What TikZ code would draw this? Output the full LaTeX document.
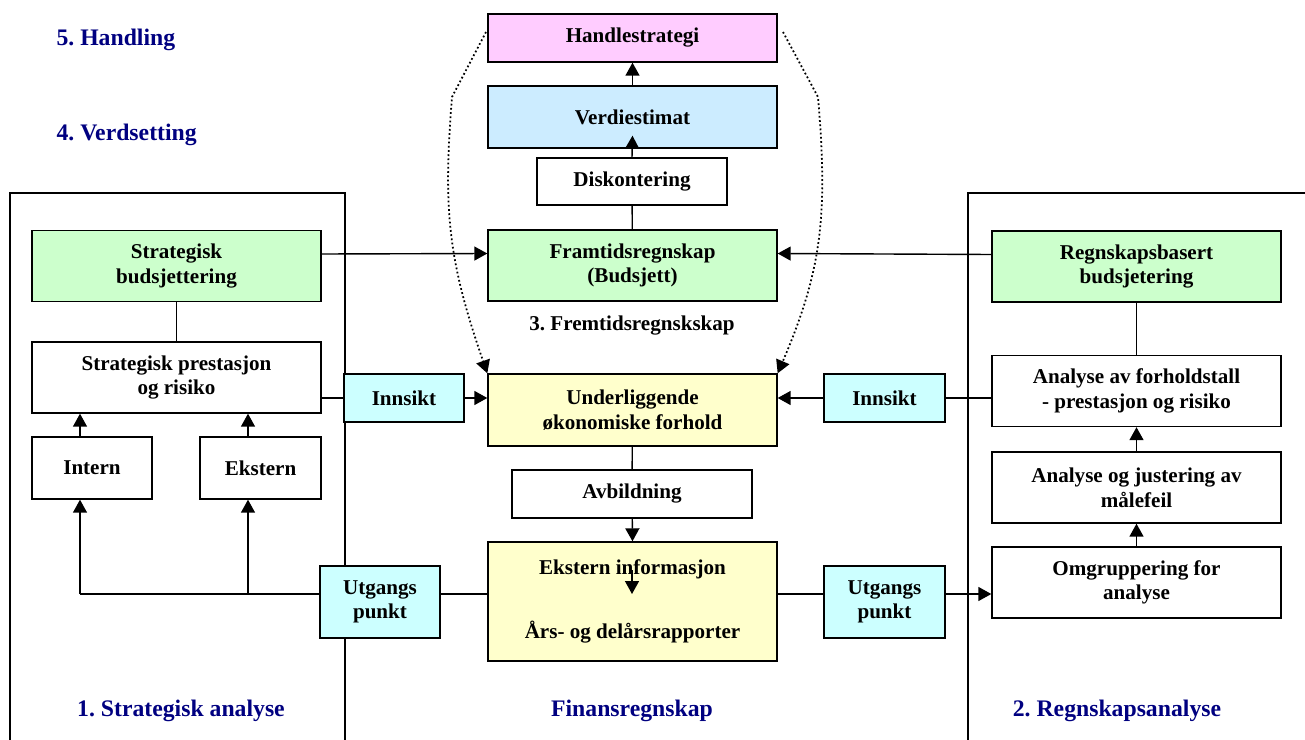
\documentclass[tikz,border=0pt]{standalone}
\usepackage{fontspec}
\setmainfont{Liberation Serif}
\usetikzlibrary{arrows.meta}
\definecolor{rosa}{RGB}{255,204,255}
\definecolor{lysblaa}{RGB}{204,236,255}
\definecolor{lysgronn}{RGB}{204,255,204}
\definecolor{lysgul}{RGB}{255,255,204}
\definecolor{turkis}{RGB}{204,255,255}
\definecolor{marine}{RGB}{0,0,128}
\frenchspacing
\begin{document}
\begin{tikzpicture}[x=0.02cm,y=-0.02cm,line width=0.8pt,
  every node/.style={font=\fontsize{12}{14}\selectfont\bfseries},
  boks/.style={draw,align=center,inner sep=0pt},
  bred/.style={boks,minimum width=5.78cm,minimum height=1.42cm},
  arr/.style={-{Triangle[length=2.6mm,width=2.8mm]}},
  prikk/.style={arr,line width=1pt,dash pattern=on 1pt off 1.4pt},
  fase/.style={text=marine,font=\fontsize{13.5}{16}\selectfont\bfseries}]
\useasboundingbox (0,0) rectangle (1305,740);
\draw (10,740) -- (10,193) -- (345,193) -- (345,740);
\draw (1305,193) -- (968,193) -- (968,740);
\node[boks, fill=rosa, minimum width=5.78cm, minimum height=0.96cm] (hs) at (632.5,38) {Handlestrategi};
\node[boks, fill=lysblaa, minimum width=5.78cm, minimum height=1.24cm] (ve) at (632.5,117) {Verdiestimat};
\node[boks, fill=white, minimum width=3.8cm, minimum height=0.94cm] (disk) at (632,181.5) {Diskontering};
\node[bred, fill=lysgronn] (fr) at (632.5,265.5) {Framtidsregnskap\\(Budsjett)};
\node (fremt) at (632,326) {3. Fremtidsregnskskap};
\node[bred, fill=lysgul, minimum height=1.44cm] (ul) at (632.5,410) {Underliggende\\økonomiske forhold};
\node[boks, fill=white, minimum width=4.8cm, minimum height=0.96cm] (avb) at (632,494) {Avbildning};
\node[bred, fill=lysgul, minimum height=2.38cm] (ek) at (632.5,601.5) {Ekstern informasjon\\[22pt]Års- og delårsrapporter};
\node[bred, fill=lysgronn] (sb) at (176.5,266) {Strategisk\\budsjettering};
\node[bred, fill=white] (sp) at (176.5,377.5) {Strategisk prestasjon\\og risiko};
\node[boks, fill=white, minimum width=2.4cm, minimum height=1.24cm] (int) at (92,468) {Intern};
\node[boks, fill=white, minimum width=2.42cm, minimum height=1.24cm] (ext) at (260.5,468) {Ekstern};
\node[boks, fill=turkis, minimum width=2.4cm, minimum height=0.96cm] (innL) at (404,398) {Innsikt};
\node[boks, fill=turkis, minimum width=2.4cm, minimum height=1.44cm] (utgL) at (380,602) {Utgangs\\punkt};
\node[boks, fill=turkis, minimum width=2.42cm, minimum height=0.96cm] (innR) at (884.5,398) {Innsikt};
\node[boks, fill=turkis, minimum width=2.42cm, minimum height=1.44cm] (utgR) at (884.5,602) {Utgangs\\punkt};
\node[bred, fill=lysgronn] (rb) at (1136.5,266.5) {Regnskapsbasert\\budsjetering};
\node[bred, fill=white] (af) at (1136.5,391) {Analyse av forholdstall\\- prestasjon og risiko};
\node[bred, fill=white] (aj) at (1136.5,487.5) {Analyse og justering av\\målefeil};
\node[bred, fill=white] (om) at (1136.5,582.5) {Omgruppering for\\analyse};
\node[fase, anchor=west] (handl) at (50,40) {5. Handling};
\node[fase, anchor=west] (verd) at (50,135) {4. Verdsetting};
\node[fase] (strat) at (181,711) {1. Strategisk analyse};
\node[fase] (finans) at (632,711) {Finansregnskap};
\node[fase] (regn) at (1117,711) {2. Regnskapsanalyse};
\coordinate (jl) at (80,594);
\coordinate (je) at (248,594);
\coordinate (ekin) at (632,570);
\coordinate (ekut) at (632,594);
\draw[arr] (ve) -- (hs);
\draw[arr] (disk.north) -- ([yshift=0.26cm]ve.south);
\draw (fr) -- (disk);
\draw[arr] ([yshift=0.24cm]sb.east) -- ([yshift=0.24cm]fr.west);
\draw[arr] ([yshift=0.24cm]rb.west) -- ([yshift=0.24cm]fr.east);
\draw (sb) -- (sp);
\draw[arr] (jl) -- (jl |- int.south);
\draw[arr] (je) -- (je |- ext.south);
\draw[arr] (jl |- int.north) -- (jl |- sp.south);
\draw[arr] (je |- ext.north) -- (je |- sp.south);
\draw (jl) -- (utgL.west |- jl);
\draw (sp.east |- innL) -- (innL);
\draw[arr] (innL) -- (innL -| ul.west);
\draw (af.west |- innR) -- (innR);
\draw[arr] (innR) -- (innR -| ul.east);
\draw (ul) -- (avb);
\draw[arr] (avb) -- (ek.north);
\draw[arr] (ekin) -- (ekut);
\draw (ek.west |- ekut) -- (utgL.east |- ekut);
\draw (ek.east |- ekut) -- (utgR.west |- ekut);
\draw[arr] (utgR.east |- ekut) -- (om.west |- ekut);
\draw (rb) -- (af);
\draw[arr] (aj) -- (af);
\draw[arr] (om) -- (aj);
\draw[prikk] (486,32) -- (452,97) .. controls (443,210) and (448,260) .. (ul.north west);
\draw[prikk] (783,32) -- (818,97) .. controls (828,215) and (822,270) .. (ul.north east);
\end{tikzpicture}
\end{document}
